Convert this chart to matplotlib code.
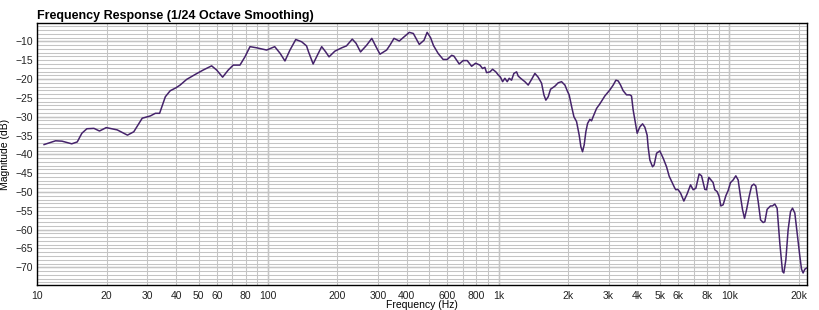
import matplotlib
matplotlib.use("Agg")
import matplotlib.pyplot as plt
from matplotlib.ticker import FixedLocator, MultipleLocator, NullFormatter

plt.rcParams['font.family'] = ['Liberation Sans', 'DejaVu Sans']

# frequency response (Hz, dB)
freq = [10.7, 12.0, 12.8, 14.1, 14.9, 15.6, 16.4, 17.6, 18.6, 19.9,
        22.2, 24.6, 26.2, 28.5, 30.9, 32.5, 33.9, 35.9, 37.7, 40.0,
        41.6, 44.4, 48.3, 52.4, 57.0, 59.9, 63.6, 67.3, 70.7, 75.6,
        79.5, 83.6, 89.3, 98.7, 107, 113, 118.5, 124.6, 132, 140,
        147, 150, 157, 164, 171, 178, 184, 195, 209, 219,
        232, 241, 252, 268, 282, 294, 306, 327, 338, 352,
        371, 389, 410, 427, 453, 475, 490, 507, 522, 547,
        575, 599, 626, 640, 675, 702, 731, 764, 795, 830,
        852, 872, 887, 917, 942, 973, 996, 1019, 1041, 1065,
        1090, 1112, 1138, 1165, 1197, 1216, 1246, 1300, 1344, 1390,
        1437, 1484, 1536, 1572, 1603, 1641, 1680, 1754, 1813, 1875,
        1939, 1990, 2023, 2073, 2121, 2178, 2236, 2274, 2312, 2350,
        2390, 2431, 2487, 2529, 2570, 2660, 2748, 2888, 3037, 3140,
        3226, 3300, 3380, 3468, 3587, 3707, 3770, 3832, 3898, 3989,
        4098, 4210, 4307, 4406, 4450, 4527, 4650, 4726, 4842, 5000,
        5170, 5348, 5490, 5680, 5810, 5869, 5990, 6152, 6357, 6570,
        6796, 6976, 7165, 7405, 7585, 7838, 7973, 8158, 8381, 8514,
        8660, 8862, 9041, 9195, 9409, 9668, 9893, 10130, 10400, 10680,
        10930, 11190, 11420, 11650, 11890, 12200, 12500, 12780, 13040, 13350,
        13670, 14030, 14270, 14600, 15100, 15400, 15760, 16130, 16570, 17020,
        17250, 17600, 18000, 18440, 18810, 19250, 19700, 20240, 20580, 20910,
        21270, 21630]
mag = [-37.4, -36.4, -36.5, -37.2, -36.7, -34.4, -33.2, -33.1, -33.8, -32.9,
       -33.5, -34.9, -34.0, -30.4, -29.8, -29.1, -29.1, -24.7, -23.1, -22.3,
       -21.6, -20.1, -18.8, -17.6, -16.5, -17.6, -19.5, -17.6, -16.3, -16.3,
       -14.1, -11.4, -11.7, -12.3, -11.4, -13.2, -15.2, -12.3, -9.5, -10.1,
       -11.2, -12.8, -16.0, -13.6, -11.4, -12.8, -14.1, -12.6, -11.7, -11.2,
       -9.4, -10.5, -12.8, -11.0, -9.2, -11.4, -13.4, -12.3, -11.0, -9.2,
       -9.9, -8.8, -7.6, -7.9, -10.8, -9.7, -7.6, -9.0, -11.1, -13.2,
       -14.8, -14.8, -13.7, -13.9, -16.0, -15.1, -15.1, -16.6, -15.8, -16.3,
       -17.2, -16.9, -18.3, -18.1, -17.4, -18.1, -18.9, -19.5, -20.7, -19.8,
       -20.7, -19.8, -20.3, -18.5, -18.1, -19.2, -19.8, -20.7, -21.6, -20.1,
       -18.5, -19.5, -21.1, -24.2, -25.6, -24.7, -22.7, -21.9, -21.0, -20.7,
       -21.6, -23.3, -24.2, -27.3, -30.0, -31.3, -34.9, -38.0, -39.3, -37.5,
       -34.0, -31.8, -30.7, -31.1, -30.0, -27.8, -26.6, -24.5, -22.9, -21.6,
       -20.3, -20.5, -21.6, -23.1, -24.2, -24.2, -24.5, -28.2, -30.9, -34.4,
       -32.7, -31.9, -32.8, -34.9, -38.0, -41.5, -43.3, -42.8, -39.7, -39.1,
       -41.0, -43.3, -45.8, -47.7, -49.0, -49.4, -49.3, -50.3, -52.4, -50.5,
       -48.1, -49.4, -49.0, -45.2, -45.7, -49.3, -49.4, -46.1, -47.0, -47.5,
       -49.4, -49.9, -51.2, -53.7, -53.4, -51.0, -49.6, -47.5, -46.8, -45.7,
       -46.8, -51.2, -54.7, -57.0, -54.7, -51.2, -48.4, -47.9, -48.4, -52.5,
       -57.4, -58.1, -57.9, -54.6, -53.7, -53.7, -53.2, -54.3, -63.6, -71.1,
       -71.5, -68.0, -60.1, -55.2, -54.3, -55.6, -60.9, -67.1, -70.5, -71.5,
       -70.5, -70.2]

xtick_vals = [10, 20, 30, 40, 50, 60, 80, 100, 200, 300, 400, 600, 800,
              1000, 2000, 3000, 4000, 5000, 6000, 8000, 10000, 20000]
xtick_text = ['10', '20', '30', '40', '50', '60', '80', '100', '200', '300', '400',
              '600', '800', '1k', '2k', '3k', '4k', '5k', '6k', '8k', '10k', '20k']
ytick_vals = [-70, -65, -60, -55, -50, -45, -40, -35, -30, -25, -20, -15, -10]

fig = plt.figure(figsize=(8.2, 3.1), dpi=100)
ax = fig.add_axes([0.0455, 0.0806, 0.939, 0.8442])

ax.set_xscale('log')
ax.set_xlim(10, 21800)
ax.set_ylim(-74.7, -5.2)

# grid: light minor lines, darker decade / 10 dB lines
minor_x = [m * d for d in (10, 100, 1000, 10000) for m in range(2, 10) if m * d < 21800]
ax.xaxis.set_minor_locator(FixedLocator(minor_x))
ax.xaxis.set_minor_formatter(NullFormatter())
ax.yaxis.set_minor_locator(MultipleLocator(1))
ax.grid(which='both', color='#c4c4c4', linewidth=0.75, zorder=0)
for d in (100, 1000, 10000):
    ax.axvline(d, color='#808080', linewidth=0.9, zorder=1)
for y in range(-70, -5, 10):
    ax.axhline(y, color='#808080', linewidth=0.9, zorder=1)

ax.plot(freq, mag, color='#45236b', linewidth=1.1, zorder=3)

ax.set_xticks(xtick_vals)
ax.set_xticklabels(xtick_text)
ax.set_yticks(ytick_vals)
ax.tick_params(which='both', length=0, labelsize=7.5, labelcolor='#222222')
ax.tick_params(axis='x', pad=4)
ax.tick_params(axis='y', pad=3)

for s in ax.spines.values():
    s.set_color('black')
    s.set_linewidth(1.0)

ax.set_title('Frequency Response (1/24 Octave Smoothing)', loc='left',
             fontsize=9, fontweight='bold', pad=3)
ax.set_xlabel('Frequency (Hz)', fontsize=7.5)
ax.xaxis.set_label_coords(0.5, -0.058)
ax.set_ylabel('Magnitude (dB)', fontsize=7.5)
ax.yaxis.set_label_coords(-0.036, 0.5)

fig.savefig('out.png', dpi=100)
